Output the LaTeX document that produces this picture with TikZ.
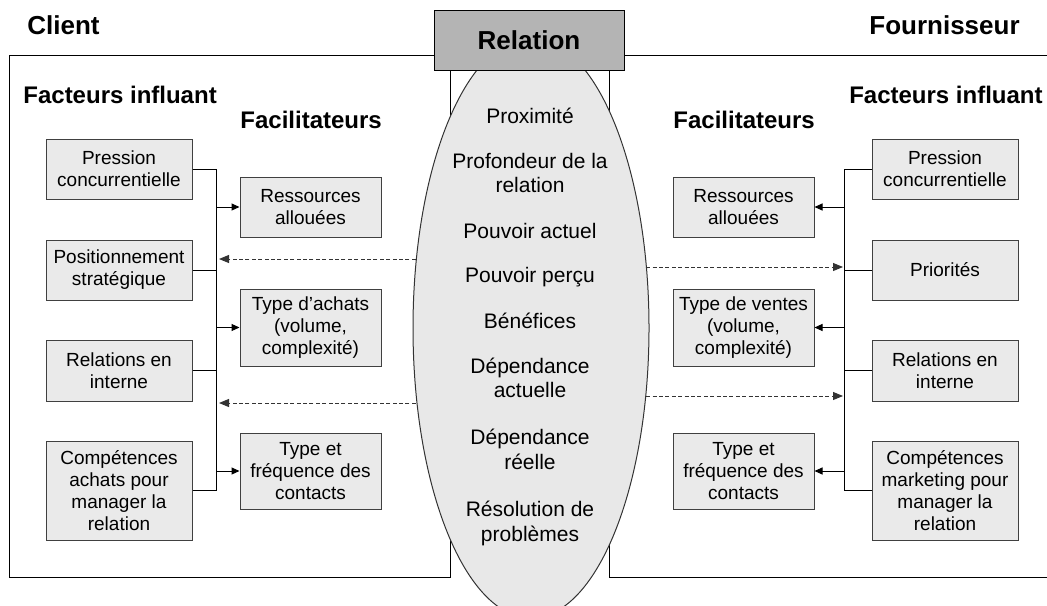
\documentclass[tikz,border=0pt]{standalone}
\usepackage{fontspec}
\setmainfont{Liberation Sans}
\usepackage{xcolor}
\usepackage{tikz}
\usetikzlibrary{positioning}
\usetikzlibrary{shapes.geometric}
\usetikzlibrary{arrows.meta}
\definecolor{boxgray}{HTML}{EAEAEA}
\definecolor{ellgray}{HTML}{E8E8E8}
\definecolor{relgray}{HTML}{B4B4B4}
\tikzstyle{factor} = [draw=black!75, fill=boxgray, line width=0.5pt, minimum width=73pt, align=center, inner sep=1pt, font=\fontsize{9.5}{11}\selectfont]
\tikzstyle{facil} = [factor, minimum width=70.5pt]
\tikzstyle{item} = [align=center, inner sep=0pt, font=\fontsize{10.5}{12.2}\selectfont]
\tikzstyle{heading} = [inner sep=0pt, font=\fontsize{12}{14}\selectfont\bfseries]
\tikzstyle{title} = [inner sep=0pt, font=\fontsize{13}{15}\selectfont\bfseries]
\tikzstyle{link} = [line width=0.5pt]
\tikzstyle{linkarrow} = [link, -{Triangle[length=4pt,width=3.5pt]}]
\tikzstyle{dasharrow} = [line width=0.5pt, draw=black!80, dash pattern=on 2pt off 1.2pt, -{Triangle[length=5pt,width=4pt]}]

\begin{document}
\begin{tikzpicture}[x=0.5pt, y=-0.5pt]
        \useasboundingbox (0,0) rectangle (1047,605);
        \clip (0,0) rectangle (1047,605);

        % Frames
        \draw[link] (9,55) rectangle (450,577);
        \draw[link] (609,55) rectangle (1060,577);

        % Buses
        \coordinate (busL) at (216,0);
        \coordinate (busR) at (844,0);

        % Dashed links (start hidden under the ellipse)
        \coordinate (dashL1) at (531,259);
        \coordinate (dashL2) at (531,403);
        \coordinate (dashR1) at (531,267);
        \coordinate (dashR2) at (531,396);
        \draw[dasharrow, shorten >=1.5pt] (dashL1) -- (dashL1 -| busL);
        \draw[dasharrow, shorten >=1.5pt] (dashL2) -- (dashL2 -| busL);
        \draw[dasharrow, shorten >=0.5pt] (dashR1) -- (dashR1 -| busR);
        \draw[dasharrow, shorten >=0.5pt] (dashR2) -- (dashR2 -| busR);

        % Relation
        \node[ellipse, draw=black!80, fill=ellgray, line width=0.5pt, minimum width=118pt, minimum height=290pt, inner sep=0pt] (rel) at (531,328) {};
        \node[title, draw, fill=relgray, line width=0.5pt, minimum width=95pt, minimum height=30pt] (relation) at (529,40) {Relation};

        \node[item] (proximite) at (530,116) {Proximité};
        \node[item] (profondeur) at (530,173) {Profondeur de la\\relation};
        \node[item] (actuel) at (530,230.5) {Pouvoir actuel};
        \node[item] (percu) at (530,277.5) {Pouvoir perçu};
        \node[item] (benefices) at (530,320.5) {Bénéfices};
        \node[item] (dactuelle) at (530,378) {Dépendance\\actuelle};
        \node[item] (dreelle) at (530,449.5) {Dépendance\\réelle};
        \node[item] (resolution) at (530,523.5) {Résolution de\\problèmes};

        % Headings
        \node[title, anchor=base west] (client) at (27,34) {Client};
        \node[title, anchor=base east] (fournisseur) at (1020,34) {Fournisseur};
        \node[heading, anchor=base west] (facteursL) at (23,103) {Facteurs influant};
        \node[heading, anchor=base west] (facilL) at (240,128) {Facilitateurs};
        \node[heading, anchor=base west] (facilR) at (673,128) {Facilitateurs};
        \node[heading, anchor=base east] (facteursR) at (1043,103) {Facteurs influant};

        % Client side
        \node[factor, minimum height=30pt] (pressionL) at (119,169) {Pression\\concurrentielle};
        \node[factor, minimum height=30pt] (positionL) at (119,270) {Positionnement\\stratégique};
        \node[factor, minimum height=30.5pt] (relationsL) at (119,370.5) {Relations en\\interne};
        \node[factor, minimum height=49.5pt] (competencesL) at (119,490.5) {Compétences\\achats pour\\manager la\\relation};
        \node[facil, minimum height=30pt] (ressourcesL) at (310.5,207) {Ressources\\allouées};
        \node[facil, minimum height=38.5pt] (achatsL) at (310.5,327.5) {Type d’achats\\(volume,\\complexité)};
        \node[facil, minimum height=38pt] (contactsL) at (310.5,471) {Type et\\fréquence des\\contacts};

        \draw[link] (pressionL.east) -- (pressionL.east -| busL) -- (competencesL.east -| busL) -- (competencesL.east);
        \draw[link] (positionL.east) -- (positionL.east -| busL);
        \draw[link] (relationsL.east) -- (relationsL.east -| busL);
        \draw[linkarrow] (ressourcesL.west -| busL) -- (ressourcesL.west);
        \draw[linkarrow] (achatsL.west -| busL) -- (achatsL.west);
        \draw[linkarrow] (contactsL.west -| busL) -- (contactsL.west);

        % Fournisseur side
        \node[factor, minimum height=30pt] (pressionR) at (945,169) {Pression\\concurrentielle};
        \node[factor, minimum height=30pt] (prioritesR) at (945,270) {Priorités};
        \node[factor, minimum height=30.5pt] (relationsR) at (945,370.5) {Relations en\\interne};
        \node[factor, minimum height=49.5pt] (competencesR) at (945,490.5) {Compétences\\marketing pour\\manager la\\relation};
        \node[facil, minimum height=30pt] (ressourcesR) at (743.5,207) {Ressources\\allouées};
        \node[facil, minimum height=38.5pt] (ventesR) at (743.5,327.5) {Type de ventes\\(volume,\\complexité)};
        \node[facil, minimum height=38pt] (contactsR) at (743.5,471) {Type et\\fréquence des\\contacts};

        \draw[link] (pressionR.west) -- (pressionR.west -| busR) -- (competencesR.west -| busR) -- (competencesR.west);
        \draw[link] (prioritesR.west) -- (prioritesR.west -| busR);
        \draw[link] (relationsR.west) -- (relationsR.west -| busR);
        \draw[linkarrow] (ressourcesR.east -| busR) -- (ressourcesR.east);
        \draw[linkarrow] (ventesR.east -| busR) -- (ventesR.east);
        \draw[linkarrow] (contactsR.east -| busR) -- (contactsR.east);
\end{tikzpicture}
\end{document}
